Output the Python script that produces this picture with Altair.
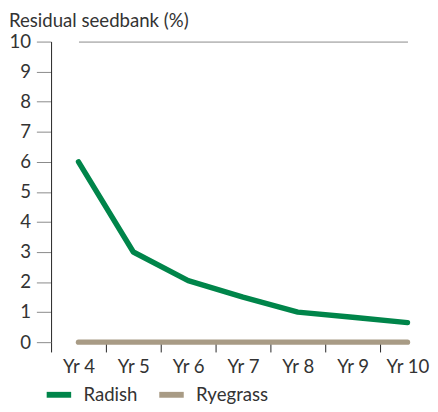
import altair as alt
import pandas as pd

years = ["Yr 4", "Yr 5", "Yr 6", "Yr 7", "Yr 8", "Yr 9", "Yr 10"]
radish = [6.0, 3.0, 2.05, 1.5, 1.0, 0.83, 0.65]
ryegrass = [0, 0, 0, 0, 0, 0, 0]
series = ["Radish", "Ryegrass"]
colors = ["#00854A", "#A89B85"]

rows = []
for y, v in zip(years, radish):
    rows.append({"Year": y, "Series": "Radish", "Value": v})
for y, v in zip(years, ryegrass):
    rows.append({"Year": y, "Series": "Ryegrass", "Value": v})
df = pd.DataFrame(rows)

FONT = "Lato"
FS = 19
W, H = 382, 307
step = 56

chart = alt.Chart(df).mark_line(strokeWidth=5.5, strokeCap="round", strokeJoin="round").encode(
    x=alt.X("Year:N", sort=years,
            scale=alt.Scale(type="point", padding=0, range=[step / 2, step * 6.5]),
            axis=alt.Axis(title=None, labelAngle=0, tickOffset=-step / 2, labelOffset=step / 2,
                          tickSize=10, tickColor="#222", domainColor="#222",
                          labelFontSize=FS, labelColor="#333", labelFont=FONT,
                          labelPadding=6, grid=False)),
    y=alt.Y("Value:Q", scale=alt.Scale(domain=[0, 10], nice=False),
            axis=alt.Axis(title=None, values=list(range(11)), tickSize=15, tickColor="#888",
                          domainColor="#222", labelFontSize=FS, labelColor="#333",
                          labelFont=FONT, labelPadding=6,
                          grid=True, gridColor="#888",
                          gridOpacity=alt.condition("datum.value == 10", alt.value(1), alt.value(0)))),
    color=alt.Color("Series:N", sort=series,
                    scale=alt.Scale(domain=series, range=colors),
                    legend=alt.Legend(title=None, orient="none", direction="horizontal",
                                      legendX=-1.5, legendY=351, padding=0,
                                      symbolType="M-2.5,0L2.5,0", symbolStrokeWidth=6,
                                      symbolSize=100,
                                      labelFontSize=FS, labelFont=FONT, labelColor="#333",
                                      columnPadding=10, labelOffset=15.5)),
).properties(
    width=W, height=H,
    title=alt.TitleParams("Residual seedbank (%)", anchor="start", frame="bounds",
                          fontSize=FS, font=FONT, fontWeight="normal", color="#333", offset=2),
    padding=0,
).configure_view(stroke=None)

chart.save("out.html", embed_options={"renderer": "svg", "actions": False})
